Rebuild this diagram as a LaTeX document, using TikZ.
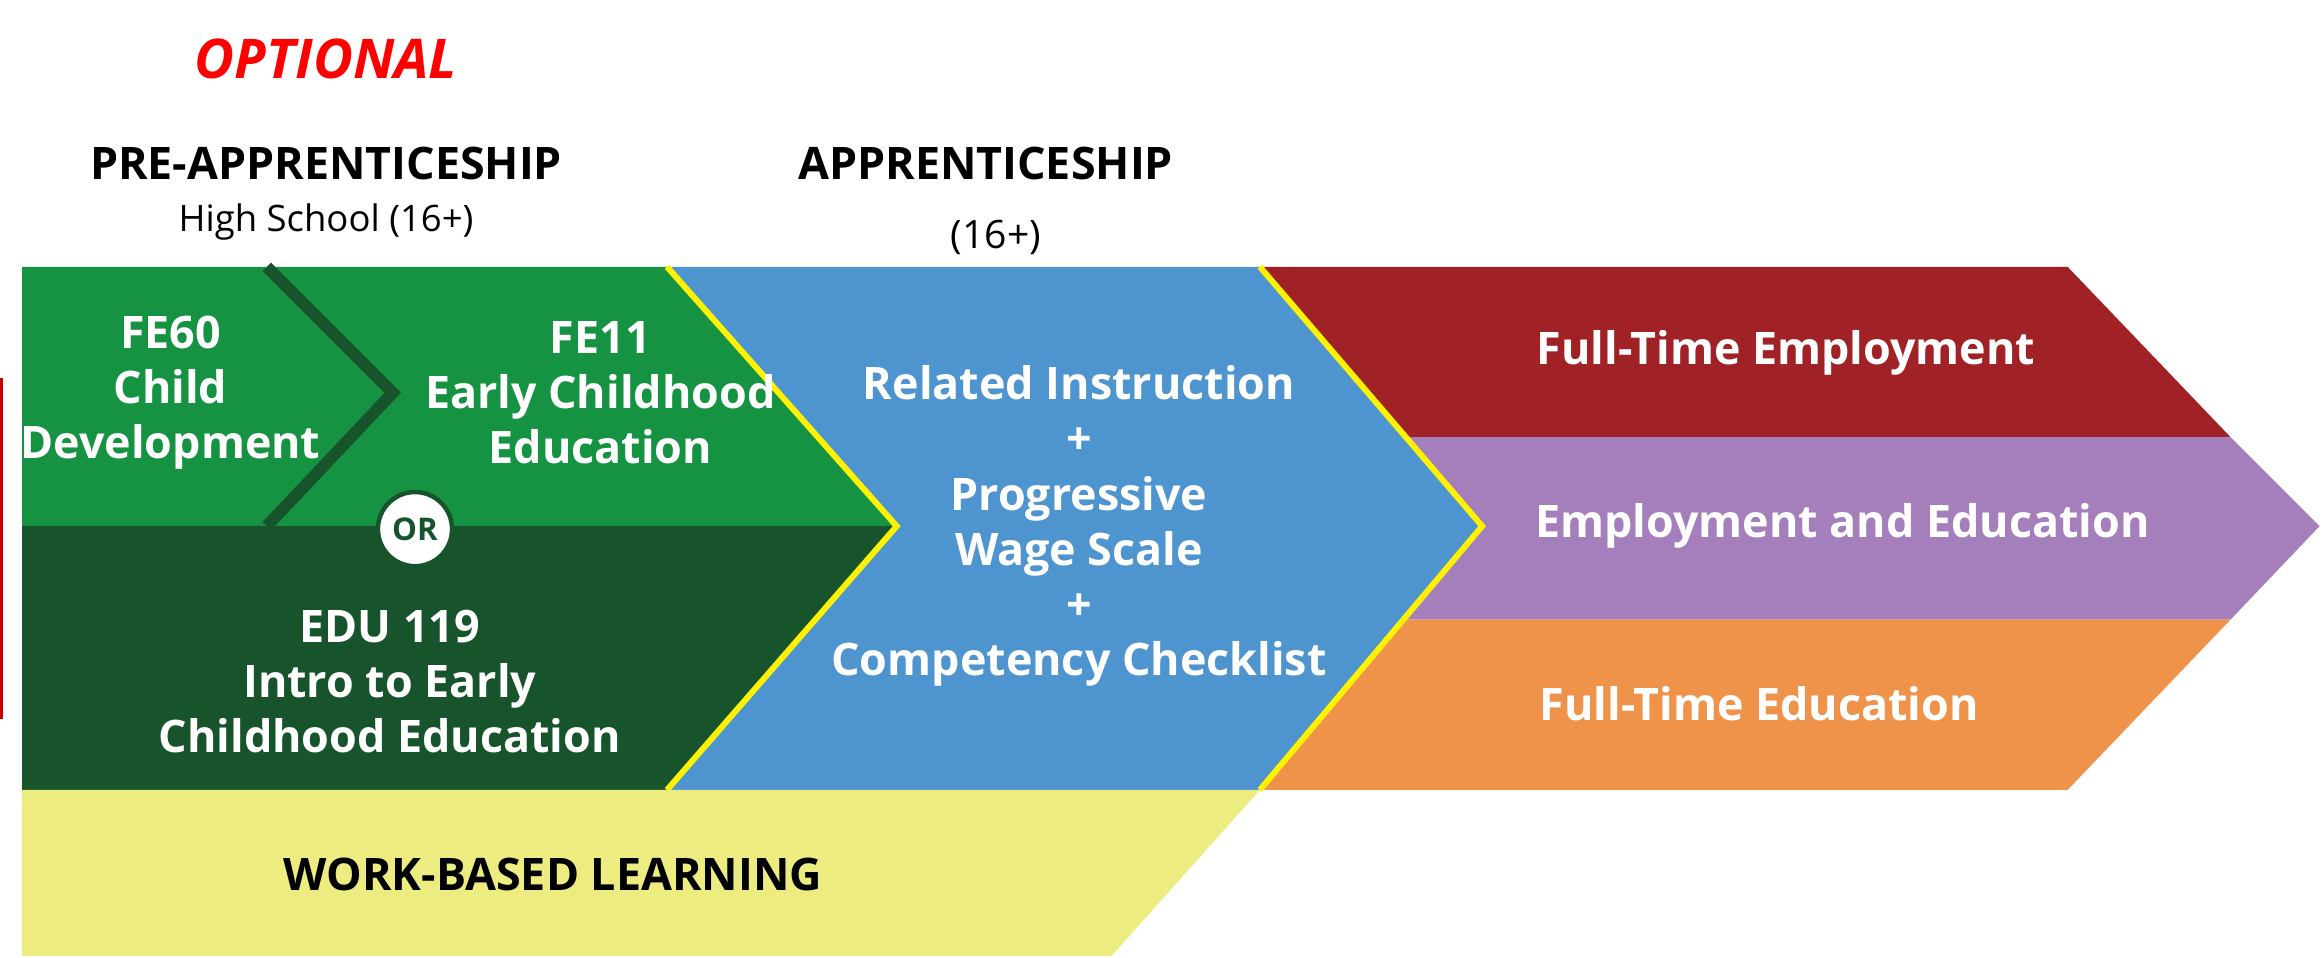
\documentclass[tikz,border=0pt]{standalone}
\usepackage{fontspec}
\setmainfont{Open Sans}
\definecolor{gL}{HTML}{169342}
\definecolor{gD}{HTML}{17532B}
\definecolor{bl}{HTML}{4E94CE}
\definecolor{rd}{HTML}{A02226}
\definecolor{pu}{HTML}{A57FBB}
\definecolor{or}{HTML}{F0934A}
\definecolor{yl}{HTML}{EDEC80}
\definecolor{ye}{HTML}{FFF200}
\begin{document}
\begin{tikzpicture}[x=0.01cm,y=-0.01cm,
  wt/.style={text=white,font=\fontsize{8.6}{10.6}\selectfont\bfseries,align=center},
  hd/.style={font=\fontsize{8.6}{10.6}\selectfont\bfseries,align=center}]
\useasboundingbox (0,0) rectangle (1568,646);
\fill[gL] (15,180)--(450,180)--(605,355)--(15,355)--cycle;
\fill[gD] (15,355)--(605,355)--(450,533)--(15,533)--cycle;
\draw[gD,line width=0.08cm] (180,180)--(265,265)--(180,355);
\fill[bl] (450,180)--(850,180)--(1000,355)--(850,533)--(450,533)--(605,355)--cycle;
\draw[ye,line width=0.04cm] (450,180)--(605,355)--(450,533);
\fill[rd] (850,180)--(1395,180)--(1505,295)--(949,295)--cycle;
\fill[pu] (949,295)--(1505,295)--(1565,355)--(1505,418)--(947,418)--(1000,355)--cycle;
\fill[or] (947,418)--(1505,418)--(1395,533)--(850,533)--cycle;
\draw[ye,line width=0.04cm] (850,180)--(1000,355)--(850,533);
\fill[yl] (15,533)--(850,533)--(750,645)--(15,645)--cycle;
\draw[red!80!black,line width=0.02cm] (1,255)--(1,485);
\node[circle,fill=white,draw=gD,line width=0.03cm,minimum size=0.5cm,inner sep=0pt,font=\fontsize{6}{7}\selectfont\bfseries,text=gD] (or1) at (280,357) {OR};
\node[hd,text=red,font=\fontsize{10.5}{12}\selectfont\bfseries\itshape] (opt) at (220,40) {OPTIONAL};
\node[hd] (pre) at (220,110) {PRE-APPRENTICESHIP};
\node[font=\fontsize{7}{8}\selectfont] (hs) at (220,150) {High School (16+)};
\node[hd] (app) at (665,110) {APPRENTICESHIP};
\node[font=\fontsize{7.5}{8}\selectfont] (a16) at (672,160) {(16+)};
\node[wt] (fe60) at (115,265) {FE60\\Child\\Development};
\node[wt] (fe11) at (405,265) {FE11\\Early Childhood\\Education};
\node[wt] (edu) at (263,460) {EDU 119\\Intro to Early\\Childhood Education};
\node[wt] (rel) at (728,355) {Related Instruction\\+\\Progressive\\Wage Scale\\+\\Competency Checklist};
\node[wt] (fte) at (1205,238) {Full-Time Employment};
\node[wt] (ee) at (1243,355) {Employment and Education};
\node[wt] (ftd) at (1187,475) {Full-Time Education};
\node[hd] (wbl) at (373,590) {WORK-BASED LEARNING};
\end{tikzpicture}
\end{document}
